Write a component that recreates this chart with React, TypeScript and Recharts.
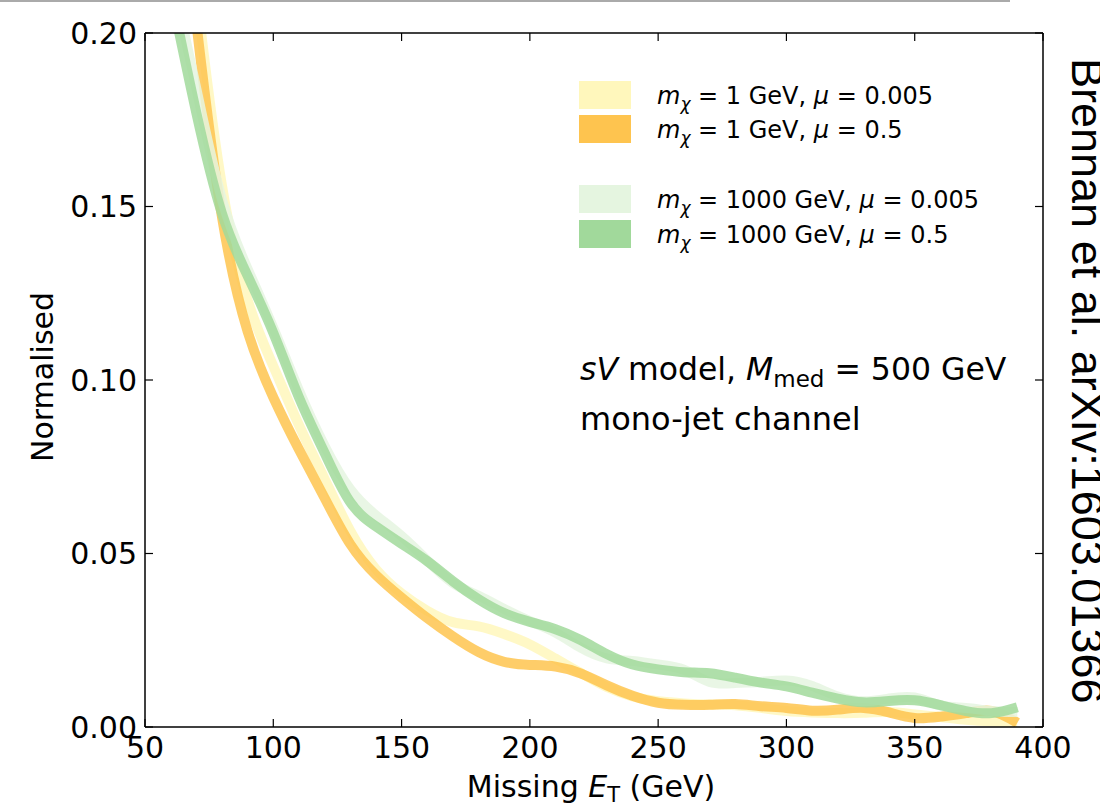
import React from 'react';
import { LineChart, Line, XAxis, YAxis } from 'recharts';

// Missing E_T bins (GeV)
const metBins = [60, 70, 80, 90, 100, 110, 120, 130, 140, 150, 160, 170, 180, 190, 200, 210, 220, 230, 240, 250, 260, 270, 280, 290, 300, 310, 320, 330, 340, 350, 360, 370, 380, 390];

// m_chi = 1 GeV, mu = 0.005
const light1 = [0.28, 0.212, 0.156, 0.123, 0.104, 0.087, 0.0715, 0.0565, 0.0455, 0.0385, 0.0335, 0.0302, 0.029, 0.0268, 0.0238, 0.0197, 0.0155, 0.0115, 0.0088, 0.0074, 0.0068, 0.0065, 0.0063, 0.0055, 0.0046, 0.0042, 0.004, 0.0041, 0.0043, 0.0036, 0.0029, 0.0021, 0.0016, 0.0013];
// m_chi = 1 GeV, mu = 0.5
const heavy1 = [0.27, 0.203, 0.147, 0.114, 0.095, 0.08, 0.066, 0.0527, 0.0438, 0.0373, 0.0314, 0.0261, 0.0216, 0.0188, 0.0179, 0.0174, 0.0154, 0.012, 0.009, 0.007, 0.0064, 0.0064, 0.0066, 0.006, 0.0055, 0.0047, 0.005, 0.0055, 0.0042, 0.0026, 0.003, 0.004, 0.0046, 0.0012];
// m_chi = 1000 GeV, mu = 0.005
const light1000 = [0.218, 0.184, 0.152, 0.132, 0.115, 0.097, 0.081, 0.0685, 0.061, 0.055, 0.048, 0.0415, 0.0378, 0.034, 0.0305, 0.0272, 0.0228, 0.0198, 0.019, 0.018, 0.0165, 0.013, 0.0127, 0.013, 0.0134, 0.0118, 0.0088, 0.0074, 0.0082, 0.0085, 0.0062, 0.0055, 0.0046, 0.0043];
// m_chi = 1000 GeV, mu = 0.5
const heavy1000 = [0.212, 0.177, 0.148, 0.13, 0.1136, 0.095, 0.079, 0.0648, 0.0578, 0.0528, 0.0478, 0.042, 0.0368, 0.0328, 0.0303, 0.0282, 0.025, 0.021, 0.018, 0.0166, 0.0158, 0.0155, 0.0142, 0.0128, 0.0117, 0.0099, 0.0082, 0.0071, 0.0075, 0.0077, 0.0063, 0.0046, 0.004, 0.0057];

const xTicks = [50, 100, 150, 200, 250, 300, 350, 400];
const yTicks = [0, 0.05, 0.1, 0.15, 0.2];

const seriesKeys = ['light1', 'heavy1', 'light1000', 'heavy1000'];
const seriesColors = ['#fff7bc', '#fec44f', '#e5f5e0', '#a1d99b'];
const legendMass = ['1', '1', '1000', '1000'];
const legendMu = ['0.005', '0.5', '0.005', '0.5'];

const data = metBins.map((x, i) => ({
  x,
  light1: light1[i],
  heavy1: heavy1[i],
  light1000: light1000[i],
  heavy1000: heavy1000[i],
}));

const FONT = '"DejaVu Sans", sans-serif';
const tickStyle = { fontSize: 30, fill: '#000', fontFamily: FONT };
const legendRowY = [95, 129, 199, 234];
const innerTick = { stroke: '#000', strokeWidth: 1.2 };
const noLabel = () => <g />;

export default function App() {
  return (
    <div style={{ position: 'absolute', left: 0, top: 0, width: 1100, height: 807, background: '#fff', overflow: 'hidden' }}>
      <div style={{ position: 'absolute', left: 0, top: 0, width: 1010, height: 2, background: '#aaa' }} />
      <LineChart width={1100} height={807} data={data} margin={{ top: 33, right: 57, left: 55, bottom: 30 }}>
        <XAxis
          xAxisId="b"
          type="number"
          dataKey="x"
          domain={[50, 400]}
          ticks={xTicks}
          allowDataOverflow
          height={50}
          tickLine={false}
          tickMargin={4}
          axisLine={{ stroke: '#000', strokeWidth: 1.5 }}
          tick={tickStyle}
        />
        <XAxis xAxisId="bm" type="number" dataKey="x" domain={[50, 400]} ticks={xTicks} allowDataOverflow mirror tick={noLabel} tickSize={8} tickLine={innerTick} axisLine={false} />
        <XAxis xAxisId="t" orientation="top" type="number" dataKey="x" domain={[50, 400]} ticks={xTicks} allowDataOverflow mirror tick={noLabel} tickSize={8} tickLine={innerTick} axisLine={{ stroke: '#000', strokeWidth: 1.5 }} />
        <YAxis
          yAxisId="l"
          type="number"
          domain={[0, 0.2]}
          ticks={yTicks}
          allowDataOverflow
          width={90}
          tickLine={false}
          tickMargin={2}
          axisLine={{ stroke: '#000', strokeWidth: 1.5 }}
          tick={tickStyle}
          tickFormatter={(v: number) => v.toFixed(2)}
        />
        <YAxis yAxisId="lm" type="number" domain={[0, 0.2]} ticks={yTicks} allowDataOverflow mirror tick={noLabel} tickSize={8} tickLine={innerTick} axisLine={false} />
        <YAxis yAxisId="r" orientation="right" type="number" domain={[0, 0.2]} ticks={yTicks} allowDataOverflow mirror tick={noLabel} tickSize={8} tickLine={innerTick} axisLine={{ stroke: '#000', strokeWidth: 1.5 }} />
        {seriesKeys.map((k, i) => (
          <Line
            key={k}
            xAxisId="b"
            yAxisId="l"
            dataKey={k}
            type="natural"
            stroke={seriesColors[i]}
            strokeOpacity={0.85}
            strokeWidth={10}
            dot={false}
            activeDot={false}
            isAnimationActive={false}
          />
        ))}
      </LineChart>
      <svg width={1100} height={807} style={{ position: 'absolute', left: 0, top: 0, pointerEvents: 'none' }} fontFamily={FONT}>
        <text x={53} y={377} fontSize={30} textAnchor="middle" transform="rotate(-90 53 377)">Normalised</text>
        <text x={591} y={797} fontSize={30} textAnchor="middle">
          Missing <tspan fontStyle="italic">E</tspan><tspan fontSize={21} dy={5}>T</tspan><tspan dy={-5}> (GeV)</tspan>
        </text>
        {seriesKeys.map((k, i) => (
          <g key={k}>
            <rect x={579} y={legendRowY[i] - 14} width={52} height={28} fill={seriesColors[i]} />
            <text x={657} y={legendRowY[i] + 9} fontSize={24}>
              <tspan fontStyle="italic">m</tspan>
              <tspan fontStyle="italic" fontSize={17} dy={6}>χ</tspan>
              <tspan dy={-6}>{` = ${legendMass[i]} GeV, `}</tspan>
              <tspan fontStyle="italic">μ</tspan>
              <tspan>{` = ${legendMu[i]}`}</tspan>
            </text>
          </g>
        ))}
        <text x={580} y={380} fontSize={31.5}>
          <tspan fontStyle="italic">sV</tspan> model, <tspan fontStyle="italic">M</tspan><tspan fontSize={23} dy={7}>med</tspan><tspan dy={-7}> = 500 GeV</tspan>
        </text>
        <text x={580} y={430} fontSize={32}>mono-jet channel</text>
        <text x={1072} y={58} fontSize={45} fontFamily='"Liberation Sans", sans-serif' transform="rotate(90 1072 58)">Brennan et al. arXiv:1603.01366</text>
      </svg>
    </div>
  );
}
